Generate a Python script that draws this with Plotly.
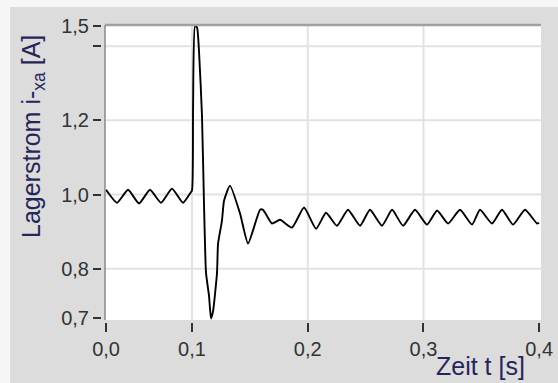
import plotly.graph_objects as go

# ---- data ----
zeit_s = [0.0257, 0.0352, 0.0447, 0.0542, 0.0637, 0.0732, 0.0827, 0.0922, 0.0983,
          0.1000, 0.1009, 0.1026, 0.1043, 0.1060, 0.1086, 0.1104, 0.1121, 0.1147,
          0.1164, 0.1182, 0.1216, 0.1225, 0.1259, 0.1277, 0.1328, 0.1415, 0.1484,
          0.1588, 0.1614, 0.1691, 0.1761, 0.1864, 0.1968, 0.2072, 0.2158, 0.2253,
          0.2348, 0.2452, 0.2538, 0.2642, 0.2729, 0.2824, 0.2927, 0.3031, 0.3118,
          0.3213, 0.3316, 0.3420, 0.3489, 0.3593, 0.3679, 0.3774, 0.3878, 0.3982,
          0.4000]
strom_A = [1.013, 0.978, 1.013, 0.976, 1.013, 0.978, 1.016, 0.978, 1.003,
           1.011, 1.232, 1.454, 1.451, 1.389, 1.214, 0.970, 0.789, 0.727,
           0.666, 0.686, 0.789, 0.868, 0.930, 0.984, 1.024, 0.949, 0.868,
           0.959, 0.959, 0.922, 0.932, 0.911, 0.965, 0.908, 0.951, 0.916,
           0.959, 0.916, 0.959, 0.916, 0.959, 0.916, 0.959, 0.919, 0.957,
           0.922, 0.959, 0.919, 0.959, 0.922, 0.959, 0.919, 0.959, 0.922,
           0.924]

x_tickvals = [0.0257, 0.1, 0.2, 0.3, 0.4]
x_ticktext = ["0,0", "0,1", "0,2", "0,3", "0,4"]
y_tickvals = [0.668, 0.8, 1.0, 1.2, 1.4, 1.455]
y_ticktext = ["0,7", "0,8", "1,0", "1,2", "", "1,5"]
x_grid = [0.1, 0.2, 0.3]
y_grid = [0.8, 1.0, 1.2, 1.4]

# ---- layout geometry ----
W, H = 558, 383
px_l, px_r, px_t, px_b = 105, 541, 25, 320
xdom = [px_l / W, px_r / W]
ydom = [(H - px_b) / H, (H - px_t) / H]
x_range = [0.0248, 0.4016]
y_range = [0.662, 1.457]

tick_font = dict(family="Liberation Sans, Arial, sans-serif", size=20, color="#333333")
title_font = dict(family="Liberation Sans, Arial, sans-serif", size=25, color="#25255a")

fig = go.Figure()
fig.add_trace(go.Scatter(x=zeit_s, y=strom_A, mode="lines",
                         line=dict(color="#000000", width=1.9, shape="spline", smoothing=0.5),
                         hoverinfo="skip", showlegend=False))

shapes = [
    dict(type="rect", xref="paper", yref="paper", x0=10 / W, x1=1, y0=0, y1=(H - 7) / H,
         fillcolor="#dcdcdc", line=dict(width=0), layer="below"),
    dict(type="rect", xref="paper", yref="paper", x0=xdom[0], x1=xdom[1], y0=ydom[0], y1=ydom[1],
         fillcolor="#ffffff", line=dict(width=0), layer="below"),
]
for gx in x_grid:
    shapes.append(dict(type="line", xref="x", yref="paper", x0=gx, x1=gx, y0=ydom[0], y1=ydom[1],
                       line=dict(color="#e2e2e2", width=2), layer="below"))
for gy in y_grid:
    shapes.append(dict(type="line", xref="paper", yref="y", x0=xdom[0], x1=xdom[1], y0=gy, y1=gy,
                       line=dict(color="#e2e2e2", width=2), layer="below"))
# frame: left gray line and top darker gray line
shapes.append(dict(type="line", xref="paper", yref="paper", x0=xdom[0], x1=xdom[0],
                   y0=ydom[0], y1=ydom[1], line=dict(color="#8a8a8a", width=1.5)))
shapes.append(dict(type="line", xref="paper", yref="paper", x0=xdom[0], x1=xdom[1],
                   y0=ydom[1], y1=ydom[1], line=dict(color="#a0a0a0", width=2.5)))

fig.update_layout(
    width=W, height=H,
    margin=dict(l=0, r=0, t=0, b=0),
    paper_bgcolor="#f6f6f6",
    plot_bgcolor="rgba(0,0,0,0)",
    shapes=shapes,
    xaxis=dict(domain=xdom, range=x_range, anchor="free", position=(H - 322) / H,
               tickmode="array", tickvals=x_tickvals, ticktext=x_ticktext,
               ticks="outside", ticklen=9, tickwidth=2, tickcolor="#333333",
               showgrid=False, zeroline=False, showline=False,
               tickfont=tick_font, automargin=False, fixedrange=True),
    yaxis=dict(domain=ydom, range=y_range, anchor="free", position=101 / W,
               tickmode="array", tickvals=y_tickvals, ticktext=y_ticktext,
               ticks="outside", ticklen=8, tickwidth=2, tickcolor="#333333",
               showgrid=False, zeroline=False, showline=False,
               tickfont=tick_font, automargin=False, fixedrange=True),
    annotations=[
        dict(text="Lagerstrom i-<sub>xa</sub> [A]", xref="paper", yref="paper",
             x=33 / W, y=(H - 137) / H, textangle=-90, showarrow=False,
             xanchor="center", yanchor="middle", font=title_font),
        dict(text="Zeit t [s]", xref="paper", yref="paper",
             x=480 / W, y=(H - 366) / H, showarrow=False,
             xanchor="center", yanchor="middle", font=title_font),
    ],
)

fig.write_html("out.html")
